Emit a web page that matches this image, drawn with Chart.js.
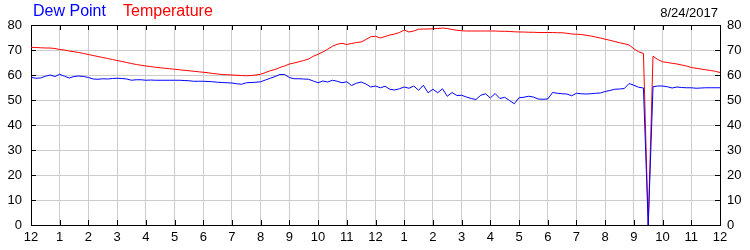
<!DOCTYPE html>
<html>
<head>
<meta charset="utf-8">
<script src="https://cdn.jsdelivr.net/npm/chart.js@4.4.1/dist/chart.umd.min.js"></script>
<style>
    body { margin: 0; background: #fff; }
    #wrap { position: relative; width: 750px; height: 250px; }
    .hdr { position: absolute; font-family: "Liberation Sans", Arial, sans-serif; line-height: 1; white-space: nowrap; }
    #legDew { left: 33px; top: 3px; font-size: 16px; color: #0000ff; }
    #legTemp { left: 123px; top: 3px; font-size: 16px; color: #ff0000; }
    #date { right: 32px; top: 6px; font-size: 13px; color: #000; }
</style>
</head>
<body>
<div id="wrap">
    <canvas id="weatherChart"></canvas>
    <div class="hdr" id="legDew">Dew Point</div>
    <div class="hdr" id="legTemp">Temperature</div>
    <div class="hdr" id="date">8/24/2017</div>
</div>
<script>
// readings every 10 minutes, midnight to midnight
const sampleHours = Array.from({ length: 145 }, (_, i) => i / 6);

const hourLabels = ['12', '1', '2', '3', '4', '5', '6', '7', '8', '9', '10', '11',
                    '12', '1', '2', '3', '4', '5', '6', '7', '8', '9', '10', '11', '12'];

const yTicks = [0, 10, 20, 30, 40, 50, 60, 70, 80];

const temperature = [
    71.1, 71.0, 70.9, 70.8, 70.8, 70.6,
    70.2, 70.0, 69.6, 69.3, 69.0, 68.6,
    68.2, 67.8, 67.4, 67.0, 66.6, 66.2,
    65.8, 65.4, 65.0, 64.6, 64.2, 63.9,
    63.6, 63.4, 63.1, 62.9, 62.7, 62.5,
    62.3, 62.1, 61.9, 61.7, 61.5, 61.3,
    61.1, 60.9, 60.6, 60.4, 60.2, 60.1,
    60.0, 59.9, 59.8, 59.7, 59.8, 60.0,
    60.3, 61.0, 61.7, 62.2, 63.0, 63.6,
    64.4, 64.8, 65.3, 65.8, 66.4, 67.5,
    68.3, 69.2, 70.3, 71.5, 72.3, 72.7,
    72.2, 72.6, 73.0, 73.2, 74.2, 75.3,
    75.5, 74.8, 75.4, 76.0, 76.4, 77.0,
    78.0, 77.2, 77.6, 78.3, 78.4, 78.4,
    78.5, 78.6, 78.8, 78.6, 78.2, 77.9,
    77.7, 77.6, 77.6, 77.6, 77.6, 77.6,
    77.6, 77.6, 77.5, 77.5, 77.4, 77.3,
    77.2, 77.2, 77.1, 77.1, 77.0, 77.0,
    77.0, 77.0, 76.9, 76.9, 76.7, 76.4,
    76.3, 76.2, 75.9, 75.6, 75.2, 74.8,
    74.3, 73.9, 73.4, 72.9, 72.5, 72.0,
    70.5, 69.3, 68.6, 0, 67.5, 66.2,
    65.3, 65.0, 64.7, 64.4, 64.0, 63.6,
    63.0, 62.7, 62.4, 62.1, 61.8, 61.5,
    61.0
];

const dewPoint = [
    59.1, 58.7, 58.8, 59.5, 60.0, 59.4,
    60.3, 59.5, 58.8, 59.4, 59.6, 59.4,
    59.0, 58.4, 58.3, 58.5, 58.4, 58.6,
    58.7, 58.6, 58.4, 57.9, 58.1, 58.1,
    57.9, 58.0, 57.9, 57.9, 57.9, 57.9,
    57.9, 57.9, 57.8, 57.7, 57.5, 57.5,
    57.5, 57.4, 57.3, 57.1, 57.0, 56.9,
    56.8, 56.5, 56.3, 56.9, 57.0, 57.1,
    57.3, 58.0, 58.7, 59.4, 60.2, 60.2,
    59.0, 58.5, 58.5, 58.4, 58.3, 57.6,
    56.9, 57.6, 57.2, 57.9, 57.5, 56.9,
    57.3, 55.8, 56.7, 57.2, 56.4, 55.2,
    55.6, 54.9, 55.5, 54.3, 54.0, 54.5,
    55.2, 54.7, 55.6, 53.9, 55.9, 52.9,
    54.3, 52.9, 54.5, 51.5, 53.0, 51.8,
    51.9, 51.2, 50.6, 50.2, 51.9, 52.5,
    50.8, 52.6, 50.6, 51.1, 49.8, 48.5,
    50.9, 51.1, 51.5, 51.2, 50.4, 50.3,
    50.4, 53.0, 52.7, 52.5, 52.4, 51.7,
    52.7, 52.5, 52.4, 52.5, 52.7, 52.8,
    53.4, 53.8, 54.3, 54.4, 54.6, 56.6,
    55.9, 55.1, 54.8, 0, 55.3, 55.6,
    55.6, 55.3, 54.8, 55.2, 55.0, 54.9,
    54.9, 54.7, 54.8, 54.9, 54.9, 54.9,
    54.9
];

function toPoints(values) {
    return values.map((v, i) => ({ x: sampleHours[i], y: v }));
}

// Short black tick marks pointing into the plot on all four sides, plus top frame line
const innerTicks = {
    id: 'innerTicks',
    afterDraw(chart) {
        const { ctx, chartArea, scales } = chart;
        const len = 5;
        ctx.save();
        ctx.strokeStyle = '#000';
        ctx.lineWidth = 1;
        ctx.beginPath();
        ctx.moveTo(chartArea.left, chartArea.top + 0.5);
        ctx.lineTo(chartArea.right, chartArea.top + 0.5);
        hourLabels.forEach((_, h) => {
            const px = Math.round(scales.x.getPixelForValue(h)) + 0.5;
            ctx.moveTo(px, chartArea.bottom);
            ctx.lineTo(px, chartArea.bottom - len);
            ctx.moveTo(px, chartArea.top);
            ctx.lineTo(px, chartArea.top + len);
        });
        yTicks.forEach(v => {
            const py = Math.round(scales.y.getPixelForValue(v)) + 0.5;
            ctx.moveTo(chartArea.left, py);
            ctx.lineTo(chartArea.left + len, py);
            ctx.moveTo(chartArea.right, py);
            ctx.lineTo(chartArea.right - len, py);
        });
        ctx.stroke();
        ctx.restore();
    }
};

const tickFont = { family: '"Liberation Sans", Arial, sans-serif', size: 13 };

const ctx = document.getElementById('weatherChart').getContext('2d');
const weatherChart = new Chart(ctx, {
    type: 'line',
    data: {
        datasets: [{
            label: 'Dew Point',
            data: toPoints(dewPoint),
            borderColor: '#0000ff',
            borderWidth: 1,
            pointRadius: 0,
            tension: 0
        }, {
            label: 'Temperature',
            data: toPoints(temperature),
            borderColor: '#ff0000',
            borderWidth: 1,
            pointRadius: 0,
            tension: 0
        }]
    },
    options: {
        responsive: true,
        maintainAspectRatio: false,
        animation: false,
        layout: {
            padding: { top: 25, left: 0, right: 0, bottom: 0 }
        },
        plugins: {
            legend: { display: false },
            title: { display: false },
            tooltip: { enabled: false }
        },
        scales: {
            x: {
                type: 'linear',
                min: 0,
                max: 24,
                afterFit(scale) { scale.height = 25; },
                ticks: {
                    stepSize: 1,
                    autoSkip: false,
                    maxRotation: 0,
                    padding: 5,
                    color: '#000',
                    font: tickFont,
                    callback: value => hourLabels[value]
                },
                grid: {
                    color: '#cccccc',
                    drawTicks: false
                },
                border: { color: '#000' }
            },
            y: {
                position: 'left',
                min: 0,
                max: 80,
                afterFit(scale) { scale.width = 31; },
                ticks: {
                    stepSize: 10,
                    padding: 9,
                    color: '#000',
                    font: tickFont
                },
                grid: {
                    color: '#cccccc',
                    drawTicks: false
                },
                border: { color: '#000' }
            },
            y1: {
                position: 'right',
                min: 0,
                max: 80,
                afterFit(scale) { scale.width = 30; },
                ticks: {
                    stepSize: 10,
                    padding: 7,
                    color: '#000',
                    font: tickFont
                },
                grid: {
                    drawOnChartArea: false,
                    drawTicks: false
                },
                border: { color: '#000' }
            }
        }
    },
    plugins: [innerTicks]
});
</script>
</body>
</html>
